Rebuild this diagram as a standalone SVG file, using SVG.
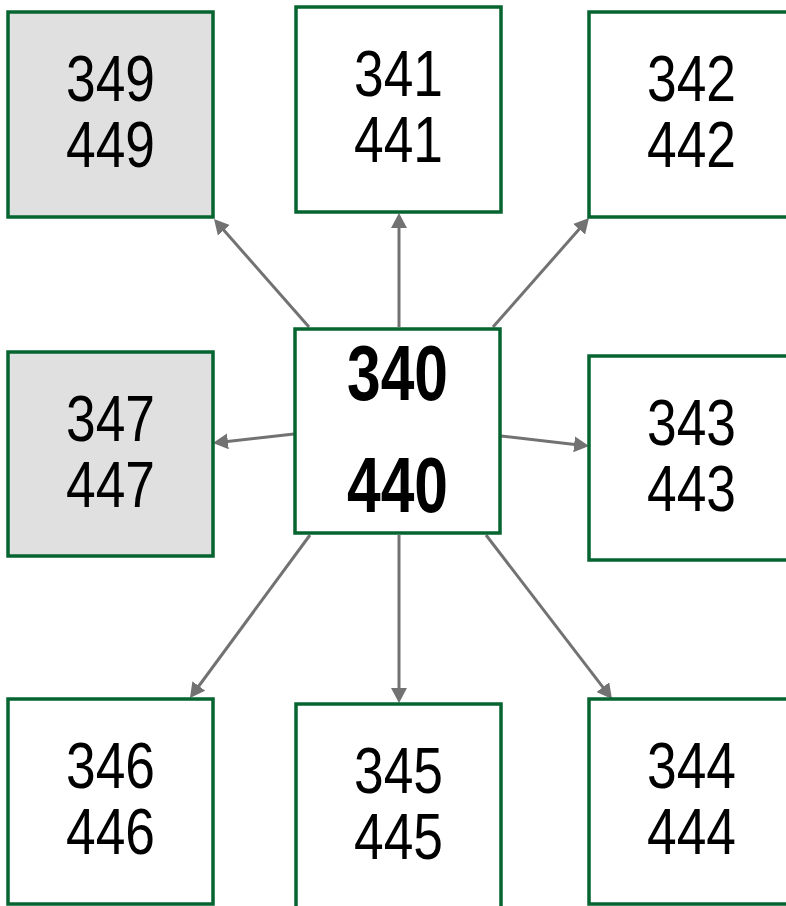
<svg xmlns="http://www.w3.org/2000/svg" width="786" height="906" viewBox="0 0 786 906">
<defs>
<style>
.box{fill:#ffffff;stroke:#066430;stroke-width:3.5}
.gray{fill:#e0e0e0}
.t{font-family:"Liberation Sans",Arial,sans-serif;font-size:64px;fill:#000;text-anchor:middle}
.b{font-family:"Liberation Sans",Arial,sans-serif;font-size:77px;font-weight:bold;fill:#000;text-anchor:middle}
.c{stroke:#727272;stroke-width:3;fill:none;marker-end:url(#ah)}
</style>
<marker id="ah" markerUnits="userSpaceOnUse" markerWidth="16" markerHeight="16" refX="5" refY="8" orient="auto">
<path d="M0,0 L15,8 L0,16 z" fill="#727272"/>
</marker>
</defs>
<rect width="786" height="906" fill="#ffffff"/>
<g id="connectors">
<path class="c" d="M309,327 L220.6,226.5"/>
<path class="c" d="M399,327 L399,223"/>
<path class="c" d="M493,327 L582.4,225.5"/>
<path class="c" d="M294,434 L222.9,441.9"/>
<path class="c" d="M501,436 L579.1,444.9"/>
<path class="c" d="M310,535 L195.9,690"/>
<path class="c" d="M399,535 L399,693"/>
<path class="c" d="M486,535 L605.9,691.1"/>
</g>
<g id="n349"><rect class="box gray" x="8" y="12" width="205" height="205"/><text class="t" x="110.5" y="101" textLength="89" lengthAdjust="spacingAndGlyphs">349</text><text class="t" x="110.5" y="167" textLength="89" lengthAdjust="spacingAndGlyphs">449</text></g>
<g id="n341"><rect class="box" x="296" y="7" width="205" height="205"/><text class="t" x="398.5" y="96" textLength="89" lengthAdjust="spacingAndGlyphs">341</text><text class="t" x="398.5" y="162" textLength="89" lengthAdjust="spacingAndGlyphs">441</text></g>
<g id="n342"><rect class="box" x="589" y="12" width="205" height="205"/><text class="t" x="691.5" y="101" textLength="89" lengthAdjust="spacingAndGlyphs">342</text><text class="t" x="691.5" y="167" textLength="89" lengthAdjust="spacingAndGlyphs">442</text></g>
<g id="n347"><rect class="box gray" x="8" y="352" width="205" height="204"/><text class="t" x="110.5" y="441" textLength="89" lengthAdjust="spacingAndGlyphs">347</text><text class="t" x="110.5" y="507" textLength="89" lengthAdjust="spacingAndGlyphs">447</text></g>
<g id="n340"><rect class="box" x="295" y="329" width="205" height="204"/><text class="b" x="397.5" y="400" textLength="101" lengthAdjust="spacingAndGlyphs">340</text><text class="b" x="397.5" y="512" textLength="101" lengthAdjust="spacingAndGlyphs">440</text></g>
<g id="n343"><rect class="box" x="589" y="356" width="205" height="204"/><text class="t" x="691.5" y="445" textLength="89" lengthAdjust="spacingAndGlyphs">343</text><text class="t" x="691.5" y="511" textLength="89" lengthAdjust="spacingAndGlyphs">443</text></g>
<g id="n346"><rect class="box" x="8" y="699" width="205" height="205"/><text class="t" x="110.5" y="788" textLength="89" lengthAdjust="spacingAndGlyphs">346</text><text class="t" x="110.5" y="854" textLength="89" lengthAdjust="spacingAndGlyphs">446</text></g>
<g id="n345"><rect class="box" x="296" y="704" width="205" height="205"/><text class="t" x="398.5" y="793" textLength="89" lengthAdjust="spacingAndGlyphs">345</text><text class="t" x="398.5" y="859" textLength="89" lengthAdjust="spacingAndGlyphs">445</text></g>
<g id="n344"><rect class="box" x="589" y="699" width="205" height="205"/><text class="t" x="691.5" y="788" textLength="89" lengthAdjust="spacingAndGlyphs">344</text><text class="t" x="691.5" y="854" textLength="89" lengthAdjust="spacingAndGlyphs">444</text></g>
</svg>
